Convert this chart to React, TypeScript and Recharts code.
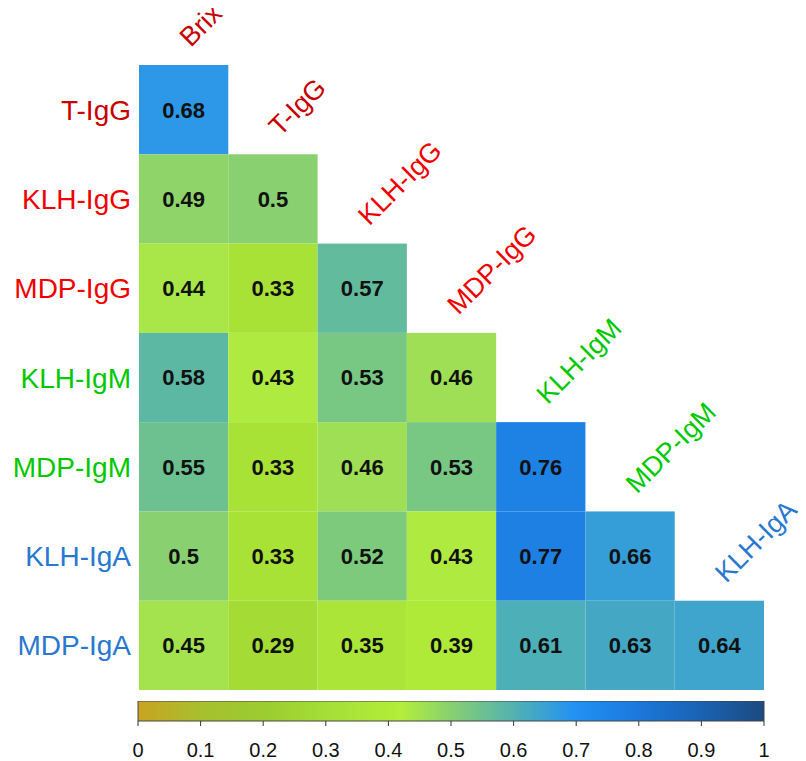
import { ScatterChart, Scatter, XAxis, YAxis, BarChart, Bar } from "recharts";

const columns = ["Brix", "T-IgG", "KLH-IgG", "MDP-IgG", "KLH-IgM", "MDP-IgM", "KLH-IgA"];
const rows = ["T-IgG", "KLH-IgG", "MDP-IgG", "KLH-IgM", "MDP-IgM", "KLH-IgA", "MDP-IgA"];
const labelColors: Record<string, string> = {
  Brix: "#c80000",
  "T-IgG": "#c80000",
  "KLH-IgG": "#f00000",
  "MDP-IgG": "#f00000",
  "KLH-IgM": "#00c800",
  "MDP-IgM": "#00c800",
  "KLH-IgA": "#2878d0",
  "MDP-IgA": "#2878d0",
};

// lower triangle, one array per row
const tIgG = [0.68];
const klhIgG = [0.49, 0.5];
const mdpIgG = [0.44, 0.33, 0.57];
const klhIgM = [0.58, 0.43, 0.53, 0.46];
const mdpIgM = [0.55, 0.33, 0.46, 0.53, 0.76];
const klhIgA = [0.5, 0.33, 0.52, 0.43, 0.77, 0.66];
const mdpIgA = [0.45, 0.29, 0.35, 0.39, 0.61, 0.63, 0.64];
const rowValues = [tIgG, klhIgG, mdpIgG, klhIgM, mdpIgM, klhIgA, mdpIgA];

// colour key: a single bar running 0..1
const keyRange = [{ key: "r", v: 1 }];
const barTicks = [0, 0.1, 0.2, 0.3, 0.4, 0.5, 0.6, 0.7, 0.8, 0.9, 1];

const colorStops: [number, string][] = [
  [0, "#c9a322"],
  [0.1, "#a8bf2e"],
  [0.2, "#9bcc30"],
  [0.3, "#a5de36"],
  [0.42, "#b4ee3a"],
  [0.5, "#88d070"],
  [0.6, "#52b2b0"],
  [0.7, "#2291f5"],
  [0.8, "#1b78da"],
  [0.9, "#1a62b2"],
  [1, "#1c4a80"],
];

function hex(c: string) {
  return [1, 3, 5].map((i) => parseInt(c.slice(i, i + 2), 16));
}

function colorFor(v: number) {
  for (let i = 1; i < colorStops.length; i++) {
    const [p1, c1] = colorStops[i];
    if (v <= p1) {
      const [p0, c0] = colorStops[i - 1];
      const t = (v - p0) / (p1 - p0);
      const a = hex(c0), b = hex(c1);
      const m = a.map((x, k) => Math.round(x + (b[k] - x) * t));
      return `rgb(${m.join(",")})`;
    }
  }
  return colorStops[colorStops.length - 1][1];
}

const cells = rowValues.flatMap((vals, r) => vals.map((v, c) => ({ x: c + 0.5, y: r + 0.5, v })));
const colLabels = columns.map((name, j) => ({ x: j + 0.5, y: j, name }));

const W = 790;
const H = 693;
const M = { top: 57, right: 34, bottom: 11, left: 0 };
const Y_W = 131;
const cellW = (W - Y_W - M.right) / 7;
const cellH = (H - M.top - M.bottom) / 7;
const FONT = "'Liberation Sans', Arial, sans-serif";

const CellShape = (p: any) => {
  const { cx, cy, payload } = p;
  return (
    <g>
      <rect x={cx - cellW / 2} y={cy - cellH / 2} width={cellW} height={cellH} fill={colorFor(payload.v)} />
      <text x={cx} y={cy} dy="0.36em" textAnchor="middle" fontSize={22} fontWeight="bold" fontFamily={FONT} fill="#111">
        {payload.v}
      </text>
    </g>
  );
};

const ColLabel = (p: any) => {
  const { cx, cy, payload } = p;
  const x = cx + 7;
  const y = cy - 17;
  return (
    <text x={x} y={y} transform={`rotate(-45 ${x} ${y})`} fontSize={27} fontFamily={FONT} fill={labelColors[payload.name]}>
      {payload.name}
    </text>
  );
};

const RowTick = (p: any) => {
  const { x, y, payload } = p;
  const name = rows[Math.floor(payload.value)];
  return (
    <text x={x} y={y} dy="0.36em" textAnchor="end" fontSize={28} fontFamily={FONT} fill={labelColors[name]}>
      {name}
    </text>
  );
};

const KeyTick = (p: any) => {
  const { x, y, payload } = p;
  return (
    <text x={x} y={y} dy="0.71em" textAnchor="middle" fontSize={20} fontFamily={FONT} fill="#111">
      {payload.value}
    </text>
  );
};

export default function App() {
  return (
    <div style={{ position: "relative", width: W, height: 752 }}>
      <div style={{ position: "absolute", left: 0, top: 0 }}>
        <ScatterChart width={W} height={H} margin={M}>
          <XAxis type="number" dataKey="x" domain={[0, 7]} hide />
          <YAxis
            type="number"
            dataKey="y"
            domain={[0, 7]}
            reversed
            width={Y_W}
            ticks={rows.map((_, i) => i + 0.5)}
            tick={<RowTick />}
            tickSize={0}
            tickMargin={8}
            axisLine={false}
            tickLine={false}
            interval={0}
          />
          <Scatter data={cells} shape={<CellShape />} isAnimationActive={false} />
          <Scatter data={colLabels} shape={<ColLabel />} isAnimationActive={false} />
        </ScatterChart>
      </div>
      <div style={{ position: "absolute", left: 0, top: 693 }}>
        <BarChart
          width={W}
          height={64}
          layout="vertical"
          data={keyRange}
          margin={{ top: 0, right: 34, bottom: 0, left: 130 }}
          barCategoryGap={0}
        >
          <defs>
            <linearGradient id="cbGrad" x1="0" y1="0" x2="1" y2="0">
              {colorStops.map(([o, c]) => (
                <stop key={o} offset={`${o * 100}%`} stopColor={c} />
              ))}
            </linearGradient>
          </defs>
          <XAxis
            type="number"
            domain={[0, 1]}
            ticks={barTicks}
            interval={0}
            height={44}
            tickSize={5}
            tickMargin={17}
            axisLine={false}
            tickLine={{ stroke: "#333" }}
            tick={<KeyTick />}
          />
          <YAxis type="category" dataKey="key" hide width={0} />
          <Bar dataKey="v" fill="url(#cbGrad)" stroke="#444" strokeWidth={1} isAnimationActive={false} />
        </BarChart>
      </div>
    </div>
  );
}
